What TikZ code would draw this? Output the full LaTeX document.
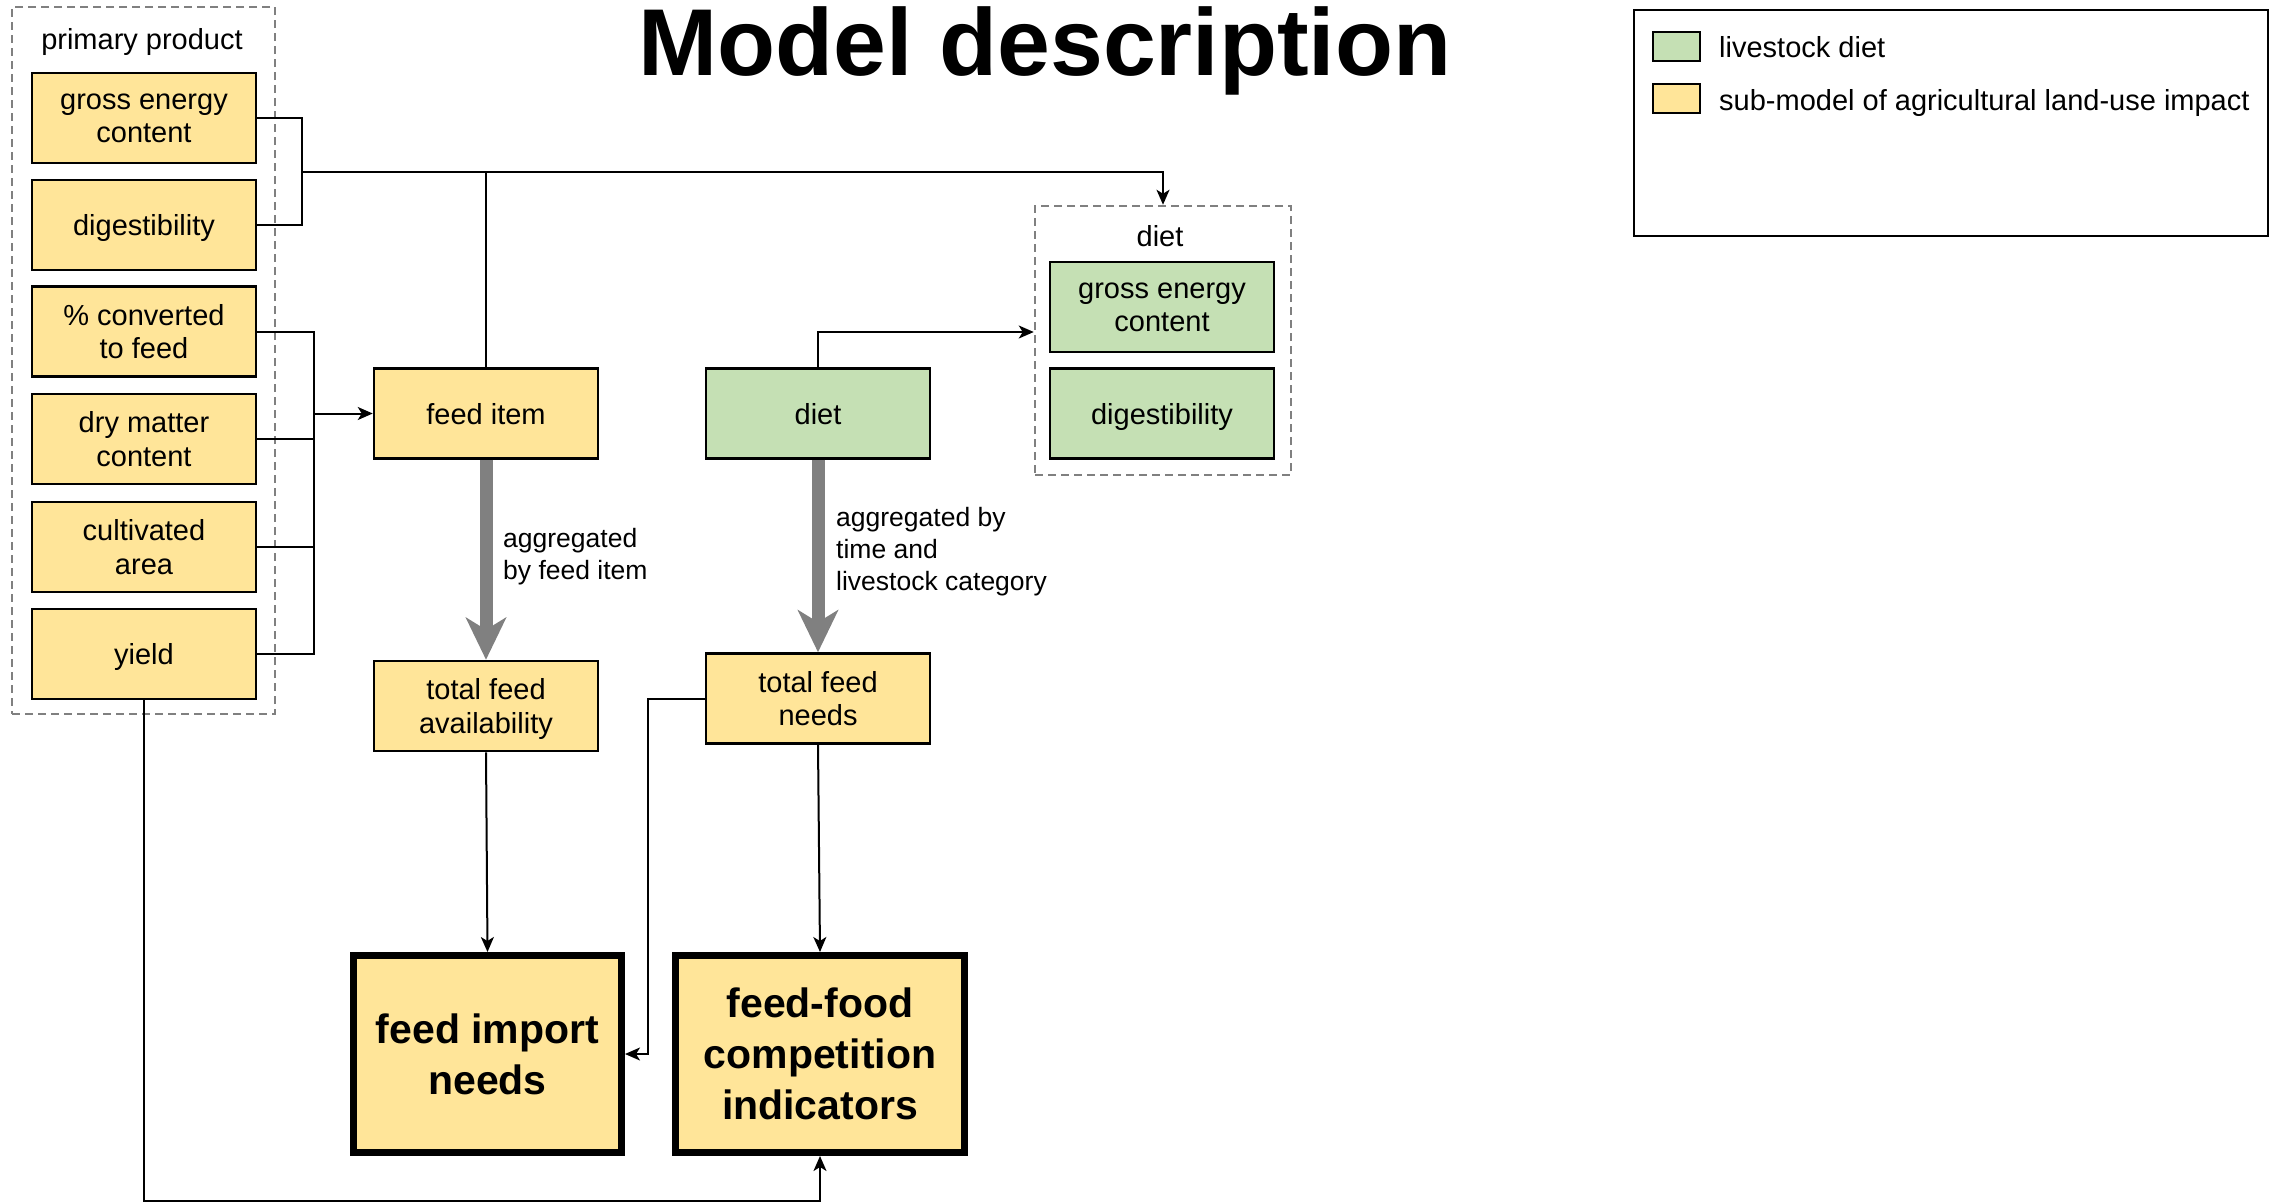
\documentclass[tikz,border=0pt]{standalone}
\usepackage{fontspec}
\setmainfont{Liberation Sans}
\usetikzlibrary{arrows.meta}
\definecolor{ylw}{HTML}{FFE599}
\definecolor{grn}{HTML}{C5E0B4}
\definecolor{fatgray}{HTML}{808080}
\newcommand\nodefont{\fontsize{29}{33.5}\selectfont}
\newcommand\lblfont{\fontsize{26.5}{32}\selectfont}
\newcommand\bigfont{\fontsize{41}{51}\selectfont\bfseries}
\newcommand\titlefont{\fontsize{95}{100}\selectfont\bfseries}
\newcommand\topstrut{\rule{0pt}{0.73em}}
\begin{document}
\begin{tikzpicture}[x=1pt,y=-1pt,
  box/.style={draw, line width=2.5pt, fill=ylw, minimum width=224pt, minimum height=90pt, align=center, inner sep=0pt, font=\nodefont, text depth=0pt, execute at begin node=\topstrut},
  gbox/.style={box, fill=grn},
  bigbox/.style={box, line width=7pt, font=\bigfont},
  con/.style={line width=2pt, -{Stealth[length=15pt,width=13pt,inset=4pt]}},
  plain/.style={line width=2pt},
  thinline/.style={line width=1.5pt},
  fat/.style={line width=13pt, draw=fatgray, -{Stealth[length=42pt,width=40pt,inset=12pt]}},
  cont/.style={draw=black!50, line width=2.5pt, dash pattern=on 8pt off 5pt, inner sep=0pt},
  lbl/.style={align=left, font=\lblfont, anchor=west, inner sep=0pt},
  txt/.style={font=\nodefont, inner sep=0pt}]
\useasboundingbox (0,0) rectangle (2280,1202);
% title
\node[font=\titlefont, anchor=base, inner sep=0pt] (title) at (1045,75) {Model description};
% legend
\node[draw, line width=2.5pt, minimum width=634pt, minimum height=226pt, inner sep=0pt] (leg) at (1951,123) {};
\node[draw, line width=2.5pt, fill=grn, minimum width=47pt, minimum height=29pt, inner sep=0pt] (lg1) at (1676.5,46.5) {};
\node[draw, line width=2.5pt, fill=ylw, minimum width=47pt, minimum height=29pt, inner sep=0pt] (lg2) at (1676.5,98.5) {};
\node[txt, anchor=west] (lt1) at (1719,47) {livestock diet};
\node[txt, anchor=west] (lt2) at (1719,103) {sub-model of agricultural land-use impact};
% primary product container
\node[cont, minimum width=263pt, minimum height=707pt] (pp) at (143.5,360.5) {};
\node[txt] (ppl) at (142,42) {primary product};
\node[box] (ge) at (144,118) {gross energy\\content};
\node[box] (dg) at (144,225) {digestibility};
\node[box] (pc) at (144,331.5) {\% converted\\to feed};
\node[box] (dm) at (144,439) {dry matter\\content};
\node[box] (ca) at (144,547) {cultivated\\area};
\node[box] (yl) at (144,654) {yield};
% middle
\node[box] (fi) at (486,413.5) {feed item};
\node[gbox] (di) at (818,413.5) {diet};
\node[box] (tfa) at (486,706) {total feed\\availability};
\node[box] (tfn) at (818,698.5) {total feed\\needs};
\node[bigbox, minimum width=268pt, minimum height=197pt] (fin) at (487.5,1054) {feed import\\needs};
\node[bigbox, minimum width=289pt, minimum height=197pt] (ffc) at (820,1054) {feed-food\\competition\\indicators};
% diet container
\node[cont, minimum width=256pt, minimum height=269pt] (dc) at (1163,340.5) {};
\node[txt] (dcl) at (1160,236) {diet};
\node[gbox] (dge) at (1162,307) {gross energy\\content};
\node[gbox] (ddg) at (1162,413.5) {digestibility};
% labels
\node[lbl] (l1) at (503,557) {aggregated\\by feed item};
\node[lbl] (l2) at (836,552) {aggregated by\\time and\\livestock category};
% bracket and top line
\coordinate (jn) at (302,171.5);
\draw[thinline] (ge.east) -- (ge.east -| jn) -- (dg.east -| jn) -- (dg.east);
\draw[con] (jn) -- (jn -| dc.north) -- (dc.north);
\draw[plain] (fi.north) -- (fi.north |- jn);
% inputs to feed item
\coordinate (vb) at (314,413.5);
\draw[plain] (pc.east) -- (pc.east -| vb) -- (yl.east -| vb) -- (yl.east);
\draw[plain] (dm.east) -- (dm.east -| vb);
\draw[plain] (ca.east) -- (ca.east -| vb);
\draw[con] (vb) -- (fi.west);
% diet to diet container
\coordinate (dt) at (818,332);
\draw[con] (di.north) -- (dt) -- (dt -| dc.west);
% fat arrows
\draw[fat] (fi.south) -- (tfa.north);
\draw[fat] (di.south) -- (tfn.north);
% thin arrows
\draw[con] (tfa.south) -- (fin.north);
\draw[con] (tfn.south) -- (ffc.north);
\coordinate (lr) at (648,698.5);
\draw[con] (tfn.west) -- (lr) -- (lr |- fin.east) -- (fin.east);
\coordinate (bt) at (144,1201);
\draw[con] (yl.south) -- (bt) -- (bt -| ffc.south) -- (ffc.south);
\end{tikzpicture}
\end{document}
